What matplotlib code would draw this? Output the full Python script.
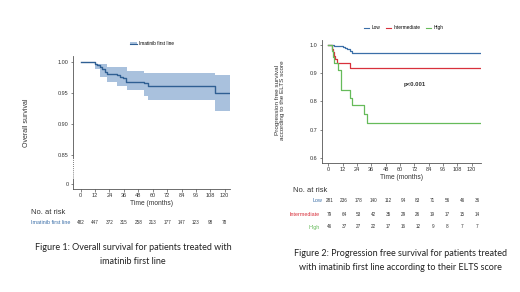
import matplotlib
matplotlib.use("Agg")
import matplotlib.pyplot as plt
from matplotlib import transforms
from matplotlib.lines import Line2D
from matplotlib.patches import Patch

plt.rcParams["font.family"] = "Liberation Sans"

# ---- Figure 1: overall survival, imatinib first line ----
os_time = [0, 12, 14, 16, 18, 20, 22, 30, 33, 35, 38, 53, 56, 112, 124]
os_surv = [1.0, 0.998, 0.995, 0.992, 0.989, 0.985, 0.981, 0.979, 0.977,
           0.975, 0.969, 0.966, 0.962, 0.950, 0.950]
ci_time = [0, 12, 16, 22, 30, 39, 53, 56, 112, 124]
ci_high = [1.0, 0.998, 0.997, 0.993, 0.993, 0.986, 0.983, 0.983, 0.980, 0.980]
ci_low = [1.0, 0.990, 0.976, 0.969, 0.962, 0.955, 0.946, 0.940, 0.922, 0.922]
os_yticks = [0.804, 0.85, 0.90, 0.95, 1.00]
os_yticklabels = ["0", "0.85", "0.90", "0.95", "1.00"]
os_at_risk = [482, 447, 372, 315, 258, 213, 177, 147, 123, 98, 78]

# ---- Figure 2: PFS by ELTS score ----
low_time = [0, 5, 12, 14, 16, 18, 20, 128]
low_surv = [1.0, 0.996, 0.993, 0.990, 0.985, 0.979, 0.972, 0.972]
int_time = [0, 3, 4, 5, 6, 7, 18, 128]
int_surv = [1.0, 0.987, 0.975, 0.962, 0.949, 0.937, 0.917, 0.917]
high_time = [0, 3, 4, 5, 8, 11, 18, 20, 30, 32, 128]
high_surv = [1.0, 0.978, 0.957, 0.935, 0.910, 0.840, 0.813, 0.787,
             0.754, 0.722, 0.722]
groups = ["Low", "Intermediate", "High"]
pfs_at_risk = [
    [281, 236, 178, 140, 112, 94, 83, 71, 56, 46, 36],
    [79, 64, 53, 42, 35, 29, 26, 19, 17, 15, 14],
    [46, 37, 27, 22, 17, 16, 12, 9, 8, 7, 7],
]

months = list(range(0, 121, 12))

W, H = 520, 292
BLUE_DARK = "#2f5f93"
BAND = "#a9c1dd"
COLORS = ["#3b6fa8", "#d8313c", "#66bb5a"]
AXC = "#555555"
TXT = "#333333"


def fx(px):
    return px / W


def fy(py):
    return 1 - py / H


def style_axes(ax):
    for s in ["top", "right"]:
        ax.spines[s].set_visible(False)
    for s in ["left", "bottom"]:
        ax.spines[s].set_color(AXC)
        ax.spines[s].set_linewidth(0.6)
    ax.tick_params(labelsize=4, length=1.8, width=0.5, pad=1.2,
                   colors=AXC, labelcolor=TXT)
    ax.set_xticks(months)


fig = plt.figure(figsize=(W / 100, H / 100), dpi=100)

# ---------------- left chart ----------------
ax1 = fig.add_axes([fx(73), fy(189), fx(230 - 73), (189 - 56) / H])
style_axes(ax1)
ax1.fill_between(ci_time, ci_low, ci_high, step="post", color=BAND,
                 linewidth=0)
ax1.step(os_time, os_surv, where="post", color=BLUE_DARK, lw=1.0)
ax1.set_xlim(-6.4, 124.4)
ax1.set_ylim(0.7957, 1.0102)
ax1.set_yticks(os_yticks)
ax1.set_yticklabels(os_yticklabels)
ax1.spines["left"].set_bounds(0.845, 1.0102)
ytr = ax1.get_yaxis_transform()
# broken y axis between 0 and 0.85
ax1.plot([0, 0], [0.812, 0.845], transform=ytr, color=AXC, lw=0.6,
         ls=(0, (1, 1.5)), clip_on=False)
ax1.plot([0, 0], [0.7957, 0.812], transform=ytr, color=AXC, lw=0.6,
         clip_on=False)
ax1.set_xlabel("Time (months)", fontsize=4.8, color=TXT, labelpad=1.5)

fig.text(fx(27), fy(123), "Overall survival", rotation=90, fontsize=5,
         ha="center", va="center", color=TXT)

handle = (Patch(facecolor=BAND, edgecolor="none"),
          Line2D([], [], color=BLUE_DARK, lw=0.8))
fig.legend([handle], ["Imatinib first line"], loc="center left",
           bbox_to_anchor=(fx(130), fy(44)), frameon=False, fontsize=3.4,
           handlelength=1.5, handletextpad=0.5, borderpad=0,
           borderaxespad=0)

fig.text(fx(31), fy(213), "No. at risk", fontsize=5.4, ha="left",
         va="center", color=TXT)
fig.text(fx(31), fy(223), "Imatinib first line", fontsize=3.9, ha="left",
         va="center", color=COLORS[0])
tr1 = transforms.blended_transform_factory(ax1.transData, fig.transFigure)
for m, n in zip(months, os_at_risk):
    fig.text(m, fy(223), str(n), transform=tr1, fontsize=3.3, ha="center",
             va="center", color=TXT)

# ---------------- right chart ----------------
ax2 = fig.add_axes([fx(321.7), fy(163.3), fx(481 - 321.7), (163.3 - 40) / H])
style_axes(ax2)
for t, s, c in zip([low_time, int_time, high_time],
                   [low_surv, int_surv, high_surv], COLORS):
    ax2.step(t, s, where="post", color=c, lw=0.9)
ax2.set_xlim(-5.5, 127.8)
ax2.set_ylim(0.5805, 1.0177)
ax2.set_yticks([0.6, 0.7, 0.8, 0.9, 1.0])
ax2.set_yticklabels(["0.6", "0.7", "0.8", "0.9", "1.0"])
ax2.set_xlabel("Time (months)", fontsize=4.8, color=TXT, labelpad=1)
ax2.text(72.5, 0.861, "p<0.001", fontsize=4.3, fontweight="bold",
         ha="center", va="center", color=TXT)

fig.text(fx(280), fy(100),
         "Progression free survival\naccording to the ELTS score",
         rotation=90, fontsize=4.6, ha="center", va="center",
         multialignment="center", color=TXT, linespacing=1.1)

fig.legend([Line2D([], [], color=c, lw=0.8) for c in COLORS], groups,
           loc="center left", bbox_to_anchor=(fx(364), fy(27.7)),
           ncol=3, frameon=False, fontsize=3.4, handlelength=1.1,
           handletextpad=0.5, columnspacing=1.2, borderpad=0,
           borderaxespad=0)

fig.text(fx(293), fy(190), "No. at risk", fontsize=5.4, ha="left",
         va="center", color=TXT)
tr2 = transforms.blended_transform_factory(ax2.transData, fig.transFigure)
row_y = [201, 214.3, 227]
label_x = [322.5, 319.5, 319.5]
for name, counts, c, ry, lx in zip(groups, pfs_at_risk, COLORS, row_y,
                                   label_x):
    fig.text(fx(lx), fy(ry), name, fontsize=3.9, ha="right",
             va="center", color=c)
    for m, n in zip(months, counts):
        fig.text(m * 1.03 + 0.8, fy(ry), str(n), transform=tr2,
                 fontsize=3.3, ha="center", va="center", color=TXT)

# ---------------- captions ----------------
cap = dict(fontsize=6.5, family="Lato", ha="center", va="center",
           color="#222222")
fig.text(fx(133), fy(247),
         "Figure 1: Overall survival for patients treated with", **cap)
fig.text(fx(133), fy(261), "imatinib first line", **cap)
fig.text(fx(400), fy(254),
         "Figure 2: Progression free survival for patients treated", **cap)
fig.text(fx(400), fy(268),
         "with imatinib first line according to their ELTS score", **cap)

fig.savefig("out.png", dpi=100)
